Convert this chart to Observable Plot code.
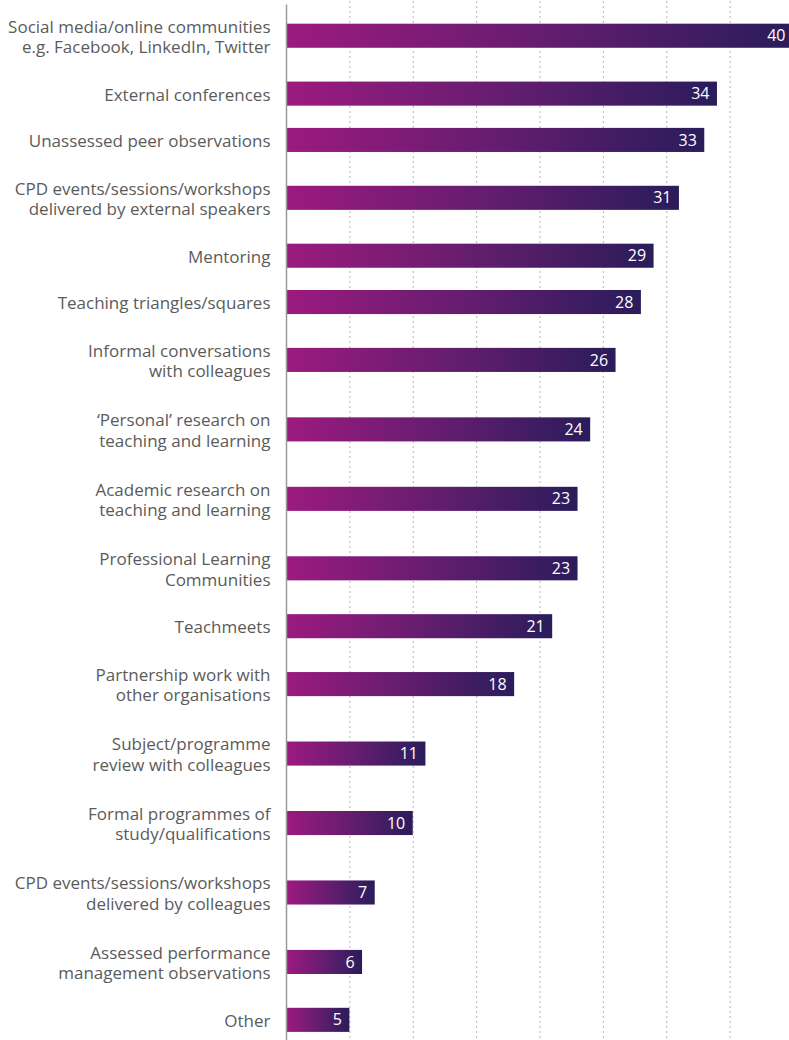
<!DOCTYPE html>
<html>
<head>
<meta charset="utf-8">
<script src="https://cdn.jsdelivr.net/npm/d3@7"></script>
<script src="https://cdn.jsdelivr.net/npm/@observablehq/plot@0.6"></script>
<style>
  html, body { margin: 0; padding: 0; background: #fff; overflow: hidden; }
  #chart svg { display: block; }
</style>
</head>
<body>
<div id="chart"></div>
<script>
const categories = [
  "Social media/online communities\ne.g. Facebook, LinkedIn, Twitter",
  "External conferences",
  "Unassessed peer observations",
  "CPD events/sessions/workshops\ndelivered by external speakers",
  "Mentoring",
  "Teaching triangles/squares",
  "Informal conversations\nwith colleagues",
  "‘Personal’ research on\nteaching and learning",
  "Academic research on\nteaching and learning",
  "Professional Learning\nCommunities",
  "Teachmeets",
  "Partnership work with\nother organisations",
  "Subject/programme\nreview with colleagues",
  "Formal programmes of\nstudy/qualifications",
  "CPD events/sessions/workshops\ndelivered by colleagues",
  "Assessed performance\nmanagement observations",
  "Other"
];
const values = [40, 34, 33, 31, 29, 28, 26, 24, 23, 23, 21, 18, 11, 10, 7, 6, 5];
const gridTicks = [5, 10, 15, 20, 25, 30, 35];

// Row layout: single-line labels take 2 units, two-line labels take 3 units
let acc = 0;
const data = categories.map((c, i) => {
  const lines = c.split("\n").length;
  const h = lines === 1 ? 2 : 3;
  const center = acc + h / 2;
  acc += h;
  return {category: c, value: values[i], center};
});
const totalUnits = acc;

const plot = Plot.plot({
  width: 789,
  height: 1040,
  marginLeft: 286,
  marginRight: -4,
  marginTop: 1,
  marginBottom: -3,
  style: {fontFamily: "'Open Sans', sans-serif", background: "#fff", overflow: "visible"},
  x: {domain: [0, 40], axis: null},
  y: {domain: [0, totalUnits], reverse: true, axis: null},
  marks: [
    Plot.ruleX(gridTicks, {stroke: "#b5b5b5", strokeWidth: 1, strokeDasharray: "2,3"}),
    Plot.rect(data, {
      x1: 0, x2: "value",
      y1: d => d.center - 0.52, y2: d => d.center + 0.52,
      fill: "url(#barGrad)"
    }),
    Plot.ruleX([0], {stroke: "#9a9a9a", strokeWidth: 1.5, y1: 0.15, y2: totalUnits}),
    Plot.text(data, {
      x: 0, y: "center", text: "category",
      textAnchor: "end", dx: -16, lineHeight: 1.2,
      fontSize: 17, fill: "#5b5b5b"
    }),
    Plot.text(data, {
      x: "value", y: "center", text: d => String(d.value),
      textAnchor: "end", dx: -8, fontSize: 16, fill: "#fff"
    })
  ]
});

const svg = d3.select(plot);
const defs = svg.insert("defs", ":first-child");
const grad = defs.append("linearGradient")
  .attr("id", "barGrad")
  .attr("x1", "0%").attr("x2", "100%").attr("y1", "0%").attr("y2", "0%");
grad.append("stop").attr("offset", "0%").attr("stop-color", "#9c1a7f");
grad.append("stop").attr("offset", "50%").attr("stop-color", "#651d6f");
grad.append("stop").attr("offset", "100%").attr("stop-color", "#2a1c5b");

document.getElementById("chart").appendChild(plot);
</script>
</body>
</html>
